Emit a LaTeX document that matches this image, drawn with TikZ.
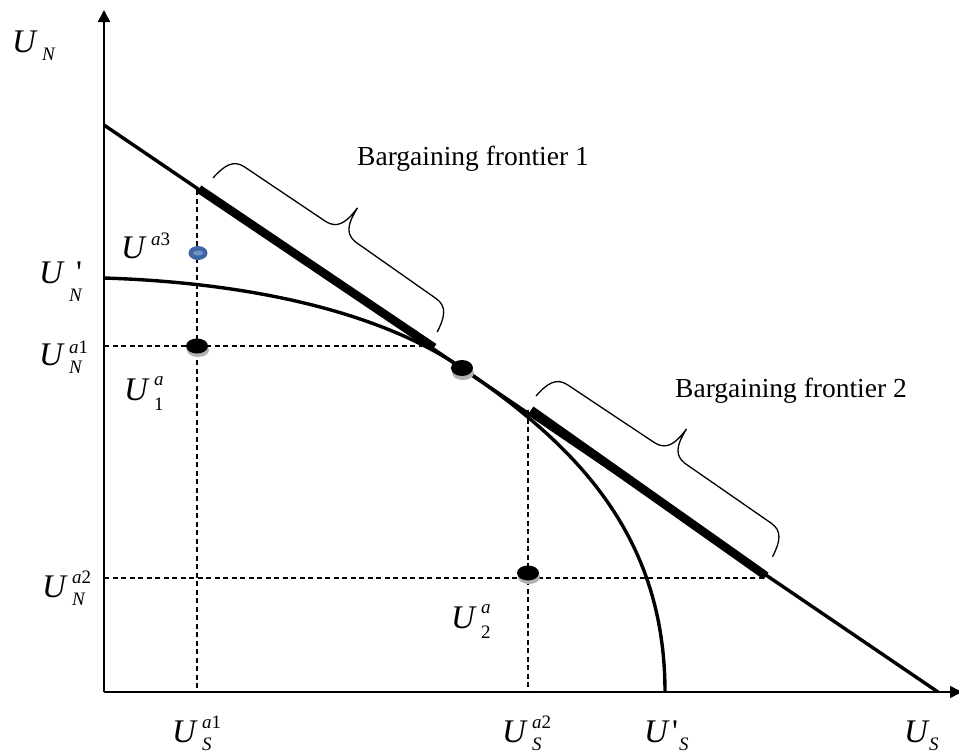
\documentclass[tikz,border=0pt]{standalone}
\usepackage{fontspec}
\setmainfont{Liberation Serif}
\usetikzlibrary{arrows.meta}
\newcommand\scr{\fontsize{19}{19}\selectfont}
\newcommand\Ulab[4]{\makebox[30pt][l]{\itshape U}\rlap{\raisebox{#3}{\scr #1}}\rlap{\raisebox{-#4}{\scr #2}}\hphantom{\scr #1}}
\begin{document}
\begin{tikzpicture}[x=1pt,y=-1pt,
  lbl/.style={anchor=base west, inner sep=0pt, font=\fontsize{33}{33}\selectfont},
  txt/.style={anchor=base west, inner sep=0pt, font=\fontsize{27.5}{27.5}\selectfont},
  axis/.style={line width=#1, -{Triangle[width=12pt,length=12pt]}},
  guide/.style={line width=1.3pt, dash pattern=on 5pt off 3.5pt},
  frontier/.style={line width=3.4pt},
  thickseg/.style={line width=8.5pt},
  bracepath/.style={line width=1.3pt, line join=round},
  dot/.style={fill=black},
  shadow/.style={fill=black!30}]
\useasboundingbox (0,0) rectangle (959,755);

% named points
\coordinate (O) at (104,692);
\coordinate (Ytop) at (104,10);
\coordinate (Xend) at (962,692);
\coordinate (L0) at (104,125);
\coordinate (L1) at (938,692);
\coordinate (T) at (462,368);

% guide lines
\draw[guide] (197,190) -- (197,692);
\draw[guide] (104,346) -- (433,346);
\draw[guide] (528,410) -- (528,692);
\draw[guide] (104,578) -- (765,578);

% utility possibility curve and frontier line
\draw[frontier] (104,278) .. controls (230,282) and (370,305.4) .. (T)
   .. controls (572,442.8) and (665,532) .. (665,692);
\draw[frontier] (L0) -- (L1);

% thick bargaining segments
\draw[thickseg] (199,189) -- (434,347.5);
\draw[thickseg] (531,410) -- (766,576);

% braces
\begin{scope}[shift={(213,178)}, rotate=-34.5]
\draw[bracepath] (0,0) .. controls (2,-16) and (6,-27) .. (20,-27)
  -- (118,-28) .. controls (130,-29) and (135,-36) .. (136,-57)
  .. controls (137,-36) and (142,-29) .. (154,-28)
  -- (252,-27) .. controls (266,-27) and (270,-16) .. (272,0);
\end{scope}
\begin{scope}[shift={(536,396)}, rotate=-34.2]
\draw[bracepath] (0,0) .. controls (2,-16) and (6,-27) .. (20,-27)
  -- (125,-28) .. controls (137,-29) and (142,-36) .. (143,-57)
  .. controls (144,-36) and (149,-29) .. (161,-28)
  -- (266,-27) .. controls (280,-27) and (284,-16) .. (286,0);
\end{scope}

% dots
\fill[shadow] (198,350) ellipse [x radius=11pt, y radius=7pt];
\fill[dot] (197,346) ellipse [x radius=11pt, y radius=7.5pt];
\fill[shadow] (463,373) ellipse [x radius=11pt, y radius=7pt];
\fill[dot] (T) ellipse [x radius=11pt, y radius=8pt];
\fill[shadow] (529,577) ellipse [x radius=11pt, y radius=7pt];
\fill[dot] (528,573) ellipse [x radius=11pt, y radius=7.5pt];
\fill[fill={rgb,255:red,62;green,102;blue,164}] (198,253) ellipse [x radius=9.5pt, y radius=7pt];
\fill[fill={rgb,255:red,110;green,145;blue,200}] (198,253) ellipse [x radius=5pt, y radius=2.5pt];

% axes
\draw[axis=2.5pt] (O) -- (Ytop);
\draw[axis=1.6pt] (O) -- (Xend);

% labels
\node[lbl] (lUN) at (12,52) {\Ulab{}{\textit{N}}{0pt}{8pt}};
\node[lbl] (lUNp) at (39,283) {\makebox[30pt][l]{\itshape U}\rlap{\hspace{7pt}\textquotesingle}\rlap{\raisebox{-18pt}{\scr\textit{N}}}};
\node[lbl] (lUNa1) at (39,365) {\Ulab{\textit{a}1}{\textit{N}}{12pt}{8pt}};
\node[lbl] (lUNa2) at (42,597) {\Ulab{\textit{a}2}{\textit{N}}{14pt}{8pt}};
\node[lbl] (lUa3) at (121,258) {\Ulab{\textit{a}3}{}{13pt}{0pt}};
\node[lbl] (lU1a) at (124,400) {\Ulab{\textit{a}}{1}{15pt}{10pt}};
\node[lbl] (lU2a) at (451,628) {\Ulab{\textit{a}}{2}{15pt}{10pt}};
\node[lbl] (lUSa1) at (172,742) {\Ulab{\textit{a}1}{\textit{S}}{14pt}{8pt}};
\node[lbl] (lUSa2) at (502,742) {\Ulab{\textit{a}2}{\textit{S}}{14pt}{8pt}};
\node[lbl] (lUSp) at (644,742) {\makebox[28pt][l]{\itshape U}\rlap{\textquotesingle}\hspace{7pt}\raisebox{-8pt}{\scr\textit{S}}};
\node[lbl] (lUS) at (904,742) {\makebox[25pt][l]{\itshape U}\raisebox{-8pt}{\scr\textit{S}}};

\node[txt] (bf1) at (357,165) {Bargaining frontier 1};
\node[txt] (bf2) at (675,397) {Bargaining frontier 2};
\end{tikzpicture}
\end{document}
